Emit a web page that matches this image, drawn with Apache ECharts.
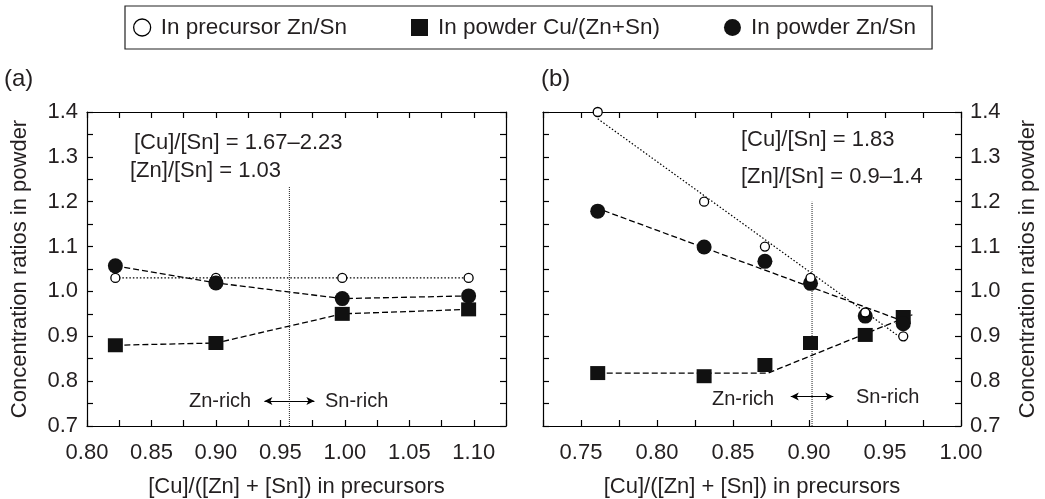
<!DOCTYPE html>
<html>
<head>
<meta charset="utf-8">
<script src="https://cdn.jsdelivr.net/npm/echarts@6/dist/echarts.min.js"></script>
<style>
html,body{margin:0;padding:0;background:#fff;}
#chart{width:1045px;height:499px;}
</style>
</head>
<body>
<div id="chart"></div>
<script>
// ---------- data ----------
const seriesNames = ['In precursor Zn/Sn', 'In powder Cu/(Zn+Sn)', 'In powder Zn/Sn'];

// panel (a)
const xA = [0.822, 0.900, 0.998, 1.096];
const precursorZnSnA = [1.03, 1.03, 1.03, 1.03];
const powderCuA = [0.880, 0.885, 0.950, 0.960];
const powderZnSnA = [1.057, 1.019, 0.984, 0.990];

// panel (b)
const xB = [0.761, 0.831, 0.871, 0.901, 0.937, 0.962];
const precursorZnSnB = [1.40, 1.20, 1.10, 1.03, 0.953, 0.900];
const powderCuB = [0.818, 0.811, 0.836, 0.885, 0.903, 0.943];
const powderZnSnB = [1.179, 1.099, 1.067, 1.018, 0.945, 0.928];
// trend lines drawn in panel (b)
const precursorTrendB = [[0.761, 1.385], [0.964, 0.888]];
const powderZnSnTrendB = [[0.765, 1.180], [0.965, 0.930]];
const powderCuTrendB = [[0.761, 0.818], [0.873, 0.818], [0.968, 0.948]];

// boundary markers
const boundaryA = [[0.957, 0.70], [0.957, 1.235]];
const boundaryB = [[0.902, 0.70], [0.902, 1.200]];
const arrowA = [[0.9376, 0.756], [0.9764, 0.756]];
const arrowB = [[0.888, 0.766], [0.916, 0.766]];

// axis ranges
const xRangeA = [0.800, 1.125];
const xRangeB = [0.725, 1.000];
const yRange = [0.7, 1.4];

// ---------- helpers ----------
const FONT = 'Liberation Sans';
const INK = '#231f20';
const zip = (xs, ys) => xs.map((x, i) => [x, ys[i]]);
const mult = (v, step) => Math.abs(v / step - Math.round(v / step)) < 1e-6;
const xFmt = v => mult(v, 0.05) ? v.toFixed(2) : '';
const yFmt = v => mult(v, 0.1) ? v.toFixed(1) : '';

function xAxisDef(grid, range, pos, showLabels, name) {
  return {
    type: 'value', gridIndex: grid, position: pos, min: range[0], max: range[1], interval: 0.025,
    axisLine: {show: true, onZero: false, lineStyle: {color: '#000', width: 1.2}},
    axisTick: {show: true, inside: true, length: 6, lineStyle: {color: '#000', width: 1.2}},
    axisLabel: {show: showLabels, formatter: xFmt, fontSize: 22, fontFamily: FONT, color: INK, margin: 16},
    splitLine: {show: false},
    name: name || '', nameLocation: 'middle', nameGap: 50,
    nameTextStyle: {fontSize: 22, fontFamily: FONT, color: INK}
  };
}
function yAxisDef(grid, pos, showLabels, name, gap) {
  return {
    type: 'value', gridIndex: grid, position: pos, min: yRange[0], max: yRange[1], interval: 0.05,
    axisLine: {show: true, onZero: false, lineStyle: {color: '#000', width: 1.2}},
    axisTick: {show: true, inside: true, length: 6, lineStyle: {color: '#000', width: 1.2}},
    axisLabel: {show: showLabels, formatter: yFmt, fontSize: 22, fontFamily: FONT, color: INK, margin: 9},
    splitLine: {show: false},
    name: name || '', nameLocation: 'middle', nameGap: gap || 0, nameRotate: 90,
    nameTextStyle: {fontSize: 22, fontFamily: FONT, color: INK}
  };
}

const dashed = {color: '#000', width: 1.3, type: [6, 3]};
const dotted = {color: '#000', width: 1.2, type: [1.5, 2]};
const openItem = {color: '#fff', borderColor: '#000', borderWidth: 1.3, opacity: 1};
const solidItem = {color: '#111', opacity: 1};

const series = [
  // panel a
  {name: seriesNames[0], type: 'line', xAxisIndex: 0, yAxisIndex: 0, data: zip(xA, precursorZnSnA),
   symbol: 'circle', symbolSize: 9, itemStyle: openItem, lineStyle: dotted, z: 2},
  {name: seriesNames[1], type: 'line', xAxisIndex: 0, yAxisIndex: 0, data: zip(xA, powderCuA),
   symbol: 'rect', symbolSize: [15, 14], itemStyle: solidItem, lineStyle: dashed, z: 3},
  {name: seriesNames[2], type: 'line', xAxisIndex: 0, yAxisIndex: 0, data: zip(xA, powderZnSnA),
   symbol: 'circle', symbolSize: 15, itemStyle: solidItem, lineStyle: dashed, z: 3},
  {name: 'boundaryA', type: 'line', xAxisIndex: 0, yAxisIndex: 0, data: boundaryA, symbol: 'none',
   lineStyle: {color: '#333', width: 1.1, type: [1, 1]}, z: 1,
   markLine: {silent: true, symbol: ['arrow', 'arrow'], symbolSize: [6, 8], label: {show: false},
     lineStyle: {color: '#000', width: 1, type: 'solid'},
     data: [[{coord: arrowA[0]}, {coord: arrowA[1]}]]}},
  // panel b
  {name: 'trend0', type: 'line', xAxisIndex: 2, yAxisIndex: 2, data: precursorTrendB, symbol: 'none', lineStyle: dotted, z: 2},
  {name: 'trend1', type: 'line', xAxisIndex: 2, yAxisIndex: 2, data: powderCuTrendB, symbol: 'none', lineStyle: dashed, z: 2},
  {name: 'trend2', type: 'line', xAxisIndex: 2, yAxisIndex: 2, data: powderZnSnTrendB, symbol: 'none', lineStyle: dashed, z: 2},
  {name: seriesNames[1], type: 'scatter', xAxisIndex: 2, yAxisIndex: 2, data: zip(xB, powderCuB),
   symbol: 'rect', symbolSize: [15, 14], itemStyle: solidItem, z: 3},
  {name: seriesNames[2], type: 'scatter', xAxisIndex: 2, yAxisIndex: 2, data: zip(xB, powderZnSnB),
   symbol: 'circle', symbolSize: 15, itemStyle: solidItem, z: 4},
  {name: seriesNames[0], type: 'scatter', xAxisIndex: 2, yAxisIndex: 2, data: zip(xB, precursorZnSnB),
   symbol: 'circle', symbolSize: 9, itemStyle: openItem, z: 5},
  {name: 'boundaryB', type: 'line', xAxisIndex: 2, yAxisIndex: 2, data: boundaryB, symbol: 'none',
   lineStyle: {color: '#333', width: 1.1, type: [1, 1]}, z: 1,
   markLine: {silent: true, symbol: ['arrow', 'arrow'], symbolSize: [6, 8], label: {show: false},
     lineStyle: {color: '#000', width: 1, type: 'solid'},
     data: [[{coord: arrowB[0]}, {coord: arrowB[1]}]]}}
];

const txt = (text, left, top, size) => ({type: 'text', left: left, top: top,
  style: {text: text, fontSize: size, fontFamily: FONT, fill: INK}});

const option = {
  animation: false,
  backgroundColor: '#fff',
  grid: [
    {left: 87, right: 539, top: 112, bottom: 73, containLabel: false, outerBoundsMode: 'none'},
    {left: 543, right: 84, top: 112, bottom: 73, containLabel: false, outerBoundsMode: 'none'}
  ],
  xAxis: [
    xAxisDef(0, xRangeA, 'bottom', true, '[Cu]/([Zn] + [Sn]) in precursors'),
    xAxisDef(0, xRangeA, 'top', false),
    xAxisDef(1, xRangeB, 'bottom', true, '[Cu]/([Zn] + [Sn]) in precursors'),
    xAxisDef(1, xRangeB, 'top', false)
  ],
  yAxis: [
    yAxisDef(0, 'left', true, 'Concentration ratios in powder', 56),
    yAxisDef(0, 'right', false),
    yAxisDef(1, 'right', true, 'Concentration ratios in powder', 56),
    yAxisDef(1, 'left', false)
  ],
  legend: {
    left: 125, top: 6, orient: 'horizontal',
    padding: [10, 16, 10, 8], itemGap: 64, itemWidth: 27, itemHeight: 17,
    symbolKeepAspect: true,
    borderColor: '#222', borderWidth: 1.2,
    textStyle: {fontSize: 22.5, fontFamily: FONT, color: INK},
    selectedMode: false,
    data: [
      {name: seriesNames[0], icon: 'circle', itemStyle: {color: '#fff', borderColor: '#000', borderWidth: 1.3}},
      {name: seriesNames[1], icon: 'path://M0,0H10V10H0Z', itemStyle: {color: '#111'}},
      {name: seriesNames[2], icon: 'circle', itemStyle: {color: '#111'}}
    ]
  },
  graphic: [
    txt('(a)', 4, 67, 24),
    txt('(b)', 541, 67, 24),
    txt('[Cu]/[Sn] = 1.67–2.23', 134, 132, 22),
    txt('[Zn]/[Sn] = 1.03', 130, 160, 22),
    txt('[Cu]/[Sn] = 1.83', 741, 129, 22),
    txt('[Zn]/[Sn] = 0.9–1.4', 741, 166, 22),
    txt('Zn-rich', 189, 391, 20),
    txt('Sn-rich', 325, 391, 20),
    txt('Zn-rich', 712, 389, 20),
    txt('Sn-rich', 856, 387, 20)
  ],
  series: series
};

const chart = echarts.init(document.getElementById('chart'), null, {renderer: 'canvas'});
chart.setOption(option);
</script>
</body>
</html>
